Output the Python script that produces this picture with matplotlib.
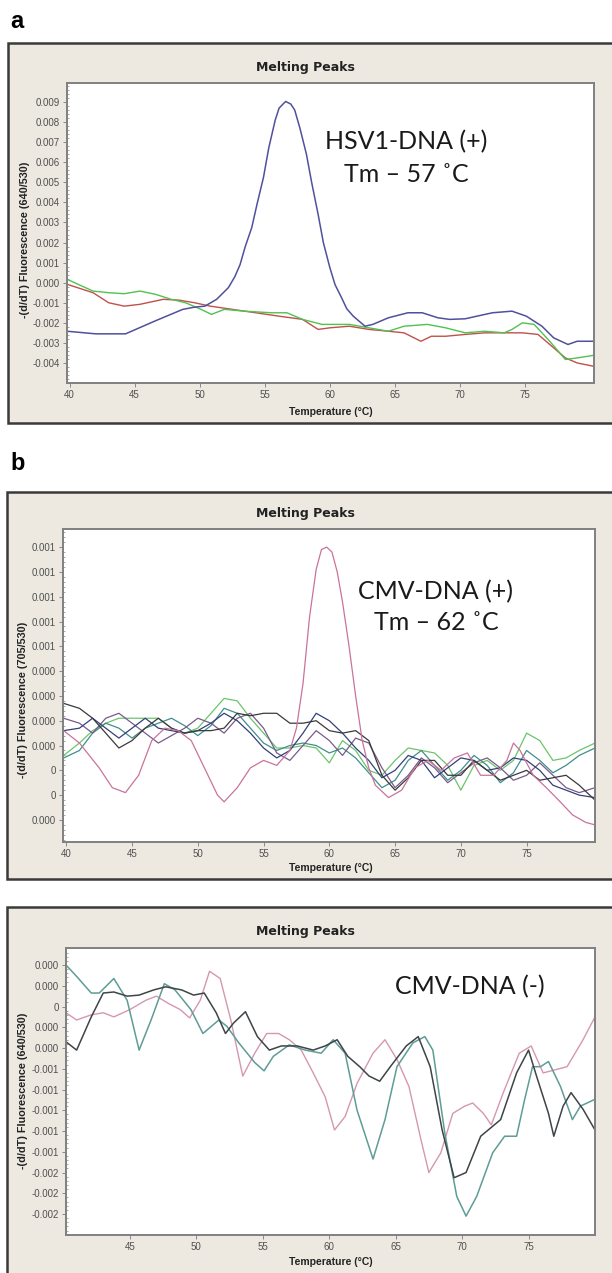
import matplotlib
matplotlib.use("Agg")
import matplotlib.pyplot as plt
from matplotlib.patches import Rectangle
from matplotlib.ticker import FixedLocator, FixedFormatter, MultipleLocator

W, H = 612, 1273

# ---------------- Panel a data (HSV1) ----------------
a_blue_t = [39.8, 42.0, 44.3, 46.6, 48.7, 49.6, 50.4, 51.3, 52.2, 52.7, 53.1, 53.5, 54.0, 54.4, 54.9,
            55.3, 55.8, 56.1, 56.6, 57.0, 57.3, 57.7, 58.2, 58.6, 59.1, 59.5, 60.0, 60.4, 60.9, 61.3,
            61.8, 62.7, 63.3, 64.5, 66.0, 67.1, 68.3, 69.2, 70.4, 71.3, 72.5, 74.0, 75.1, 76.3, 77.2,
            78.3, 79.0, 80.3]
a_blue_y = [-0.00242, -0.00255, -0.00255, -0.0019, -0.00133, -0.00122, -0.00117, -0.00083, -0.00025,
            0.0003, 0.0009, 0.0018, 0.00275, 0.0039, 0.00525, 0.0067, 0.0081, 0.0087, 0.00903, 0.0089,
            0.0086, 0.0077, 0.0064, 0.005, 0.0034, 0.002, 0.00075, -0.0001, -0.00075, -0.0013,
            -0.00167, -0.00217, -0.00208, -0.00175, -0.0015, -0.0015, -0.00175, -0.00183, -0.0018,
            -0.00167, -0.0015, -0.00142, -0.00167, -0.00217, -0.00275, -0.00308, -0.00292, -0.00292]

a_red_t = [39.8, 41.8, 43.0, 44.2, 45.4, 47.2, 48.4, 49.6, 50.8, 52.5, 54.3, 56.1, 57.9, 59.1, 60.0,
           61.5, 63.0, 64.5, 65.7, 67.0, 67.8, 68.9, 70.4, 71.9, 73.4, 74.8, 76.0, 76.9, 78.1, 79.0, 80.3]
a_red_y = [-0.00008, -0.0005, -0.001, -0.00117, -0.00108, -0.00083, -0.00087, -0.001, -0.00117,
           -0.00133, -0.0015, -0.00167, -0.00183, -0.00233, -0.00225, -0.00217, -0.00233, -0.00242,
           -0.0025, -0.00292, -0.00267, -0.00267, -0.00258, -0.0025, -0.0025, -0.0025, -0.00258,
           -0.00308, -0.00375, -0.004, -0.00417]

a_green_t = [39.8, 41.8, 43.0, 44.2, 45.4, 46.6, 47.8, 48.9, 50.1, 50.9, 51.9, 53.4, 55.5, 56.7,
             57.9, 59.4, 61.5, 63.0, 64.5, 65.7, 67.5, 68.9, 70.4, 71.9, 73.4, 74.0, 74.8, 75.7,
             76.9, 78.1, 79.0, 80.3]
a_green_y = [0.00017, -0.00042, -0.0005, -0.00055, -0.00042, -0.00058, -0.00083, -0.001, -0.00133,
             -0.00158, -0.00133, -0.00142, -0.0015, -0.0015, -0.00183, -0.00208, -0.00208, -0.00225,
             -0.00242, -0.00217, -0.00208, -0.00225, -0.0025, -0.00242, -0.0025, -0.00233, -0.002,
             -0.00208, -0.00292, -0.00383, -0.00375, -0.00362]

a_yticks = [0.009, 0.008, 0.007, 0.006, 0.005, 0.004, 0.003, 0.002, 0.001, 0.0, -0.001, -0.002, -0.003, -0.004]
a_ylabels = ["0.009", "0.008", "0.007", "0.006", "0.005", "0.004", "0.003", "0.002", "0.001", "0.000",
             "-0.001", "-0.002", "-0.003", "-0.004"]

# ---------------- Panel b data (CMV +) ----------------
b_t = [39.8, 41, 42, 43, 44, 45, 46, 47, 48, 49, 50, 51, 52, 53, 54, 55, 56, 57, 58, 59, 60, 61, 62,
       63, 64, 65, 66, 67, 68, 69, 70, 71, 72, 73, 74, 75, 76, 77, 78, 79, 80.2]
b_dark_y = [0.00037, 0.00035, 0.00031, 0.00025, 0.00019, 0.00022, 0.00027, 0.00031, 0.00027, 0.00025,
            0.00026, 0.00026, 0.00027, 0.00033, 0.00032, 0.00033, 0.00033, 0.00029, 0.00029, 0.0003,
            0.00026, 0.00025, 0.00026, 0.00022, 0.00008, 0.00002, 0.00007, 0.00014, 0.00014, 0.00008,
            0.00008, 0.00014, 0.0001, 0.00006, 0.00008, 0.0001, 0.00006, 0.00007, 0.00008, 0.00004, -0.00002]
b_green_y = [0.00016, 0.00021, 0.00026, 0.00029, 0.00031, 0.00031, 0.00031, 0.00031, 0.00027, 0.00025,
             0.00027, 0.00033, 0.00039, 0.00038, 0.00031, 0.00025, 0.00019, 0.00019, 0.0002, 0.00019,
             0.00013, 0.00022, 0.00018, 0.0001, 0.00008, 0.00014, 0.00019, 0.00018, 0.00017, 0.00012,
             0.00002, 0.00012, 0.00014, 0.0001, 0.00014, 0.00025, 0.00022, 0.00014, 0.00015, 0.00018, 0.00021]
b_navy_y = [0.00026, 0.00027, 0.00031, 0.00027, 0.00023, 0.00027, 0.00031, 0.00027, 0.00026, 0.00025,
            0.00026, 0.00029, 0.00033, 0.0003, 0.00025, 0.00019, 0.00015, 0.00018, 0.00025, 0.00033,
            0.0003, 0.00025, 0.00019, 0.00014, 0.00007, 0.0001, 0.00016, 0.00014, 0.00007, 0.00011,
            0.00015, 0.00014, 0.0001, 0.00011, 0.00015, 0.00014, 0.0001, 0.00004, 0.00002, 0.0, -0.00001]
b_teal_y = [0.00015, 0.00018, 0.00025, 0.00029, 0.00027, 0.00023, 0.00027, 0.00029, 0.00031, 0.00028,
            0.00024, 0.00028, 0.00035, 0.00033, 0.00027, 0.00021, 0.00018, 0.0002, 0.00021, 0.0002,
            0.00017, 0.00019, 0.00015, 0.00009, 0.00003, 0.00006, 0.00014, 0.00018, 0.00012, 0.00006,
            0.0001, 0.00016, 0.00012, 0.00005, 0.00009, 0.00018, 0.00014, 0.00009, 0.00012, 0.00016, 0.00019]
b_purple_y = [0.00031, 0.00029, 0.00025, 0.00031, 0.00033, 0.00029, 0.00025, 0.00021, 0.00024, 0.00027,
              0.00031, 0.00029, 0.00025, 0.00031, 0.00033, 0.00027, 0.00017, 0.00014, 0.0002, 0.00026,
              0.00022, 0.00016, 0.00023, 0.00021, 0.00011, 0.00003, 0.00008, 0.00015, 0.00011, 0.00005,
              0.00009, 0.00013, 0.00015, 0.00011, 0.00006, 0.00008, 0.00013, 0.00008, 0.00003, 0.00001, 0.00003]
b_pink_t = [39.8, 41, 42.5, 43.5, 44.5, 45.5, 46.5, 47.5, 48.5, 49.5, 50.5, 51.5, 52, 53, 54, 55, 56, 57,
            57.5, 58, 58.5, 59, 59.4, 59.8, 60.2, 60.6, 61, 61.5, 62, 62.5, 63, 63.5, 64.5, 65.5, 66.5,
            67.5, 68.5, 69.5, 70.5, 71.5, 72.5, 73.5, 74, 74.5, 75.5, 76.5, 77.5, 78.5, 79.5, 80.2]
b_pink_y = [0.00026, 0.00021, 0.00011, 0.00003, 0.00001, 0.00008, 0.00022, 0.00027, 0.00026, 0.00022,
            0.00011, 0.0, -0.000027, 0.00003, 0.00011, 0.00014, 0.00012, 0.00018, 0.00027, 0.00045,
            0.00072, 0.00091, 0.00099, 0.001, 0.00098, 0.0009, 0.00078, 0.0006, 0.0004, 0.00022,
            0.00011, 0.00004, -0.00001, 0.00002, 0.00011, 0.00014, 0.0001, 0.00015, 0.00017, 0.00008,
            0.00008, 0.00014, 0.00021, 0.00018, 0.00008, 0.00003, -0.000024, -0.00008, -0.00011, -0.00012]

b_yticks = [0.0010, 0.0009, 0.0008, 0.0007, 0.0006, 0.0005, 0.0004, 0.0003, 0.0002, 0.0001, 0.0, -0.0001]
b_ylabels = ["0.001", "0.001", "0.001", "0.001", "0.001", "0.000", "0.000", "0.000", "0.000", "0", "0", "0.000"]

# ---------------- Panel c data (CMV -) ----------------
c_teal_t = [40.2, 41.0, 42.1, 42.7, 43.8, 44.8, 45.7, 46.6, 47.6, 48.4, 49.6, 50.5, 51.7, 52.3,
            53.2, 54.4, 55.1, 55.8, 57.0, 58.2, 59.4, 60.3, 61.2, 62.1, 63.3, 64.2, 65.1, 66.3,
            67.2, 67.8, 68.7, 69.6, 70.3, 71.1, 72.3, 73.2, 74.1, 74.7, 75.3, 75.9, 76.5, 77.4,
            78.3, 78.9, 79.9]
c_teal_y = [0.0004, 0.00029, 0.00013, 0.00013, 0.00027, 0.00006, -0.00042, -0.00013, 0.00022, 0.00016,
            -0.00003, -0.00026, -0.00013, -0.00019, -0.00035, -0.00054, -0.00062, -0.00048, -0.00037,
            -0.00042, -0.00045, -0.00032, -0.00045, -0.001, -0.00147, -0.00109, -0.00058, -0.00035,
            -0.00029, -0.00042, -0.00122, -0.00183, -0.00202, -0.00183, -0.00141, -0.00125, -0.00125,
            -0.0009, -0.00058, -0.00058, -0.00053, -0.00077, -0.00109, -0.00096, -0.00090]
c_dark_t = [40.2, 41.0, 42.1, 43.0, 43.8, 44.8, 45.7, 46.8, 47.7, 48.9, 49.8, 50.6, 51.5, 52.2,
            52.8, 53.7, 54.6, 55.5, 56.4, 57.6, 58.8, 59.7, 60.6, 61.4, 62.3, 63.0, 63.8, 64.6,
            65.8, 66.7, 67.6, 68.5, 69.4, 70.3, 71.4, 72.9, 74.1, 75.0, 75.6, 76.5, 76.9, 77.6,
            78.2, 79.1, 80.0]
c_dark_y = [-0.00034, -0.00042, -0.0001, 0.00013, 0.00014, 0.0001, 0.00011, 0.00016, 0.00019, 0.00016,
            0.00011, 0.00013, -0.00006, -0.00026, -0.00016, -0.00005, -0.00029, -0.00042, -0.00038,
            -0.00038, -0.00042, -0.00038, -0.00032, -0.00048, -0.00058, -0.00067, -0.00072, -0.00058,
            -0.00038, -0.00029, -0.00058, -0.00119, -0.00165, -0.0016, -0.00125, -0.00109, -0.00064,
            -0.00042, -0.00067, -0.00103, -0.00125, -0.00096, -0.00083, -0.00099, -0.00119]
c_pink_t = [40.2, 41.0, 42.1, 43.0, 43.8, 45.0, 46.2, 47.0, 47.9, 48.8, 49.5, 50.3, 51.0, 51.8,
            52.6, 53.5, 54.4, 55.3, 56.2, 57.0, 57.9, 58.8, 59.7, 60.4, 61.2, 62.1, 63.3, 64.2,
            65.1, 66.0, 66.9, 67.5, 68.4, 69.3, 70.2, 70.8, 71.6, 72.2, 73.1, 74.3, 75.2, 76.1,
            77.0, 77.9, 79.1, 80.0]
c_pink_y = [-0.00006, -0.00013, -0.00008, -0.00006, -0.0001, -0.00003, 0.00006, 0.00010, 0.00003,
            -0.00003, -0.00011, 0.00006, 0.00034, 0.00027, -0.00013, -0.00067, -0.00045, -0.00026,
            -0.00026, -0.00032, -0.00042, -0.00064, -0.00087, -0.00119, -0.00106, -0.00074, -0.00045,
            -0.00032, -0.00051, -0.00077, -0.00128, -0.0016, -0.00141, -0.00103, -0.00096, -0.00093,
            -0.00103, -0.00114, -0.00083, -0.00045, -0.00038, -0.00064, -0.00061, -0.00058, -0.00032,
            -0.0001]

c_yticks = [0.0004, 0.0002, 0.0, -0.0002, -0.0004, -0.0006, -0.0008, -0.0010, -0.0012, -0.0014, -0.0016, -0.0018, -0.0020]
c_ylabels = ["0.000", "0.000", "0", "0.000", "0.000", "-0.001", "-0.001", "-0.001", "-0.001", "-0.001",
             "-0.002", "-0.002", "-0.002"]

x_ticks_ab = [40, 45, 50, 55, 60, 65, 70, 75]
x_ticks_c = [45, 50, 55, 60, 65, 70, 75]

BEIGE = "#ede9e1"
FRAME = "#808080"
TICKCOL = "#505050"
SANS = ["Liberation Sans", "DejaVu Sans"]

fig = plt.figure(figsize=(W / 100, H / 100), dpi=100)
fig.patch.set_facecolor("white")


def fx(x):
    return x / W


def fy(y):
    return 1 - y / H


def panel_box(x0, y0, x1, y1):
    r = Rectangle((fx(x0), fy(y1)), fx(x1) - fx(x0), fy(y0) - fy(y1), transform=fig.transFigure,
                  facecolor=BEIGE, edgecolor="#3a3a3a", linewidth=1.8, zorder=-10)
    fig.patches.append(r)


def make_axes(l, t, r, b, xlim, ylim, xticks, yticks, ylabels):
    ax = fig.add_axes([fx(l), fy(b), fx(r) - fx(l), fy(t) - fy(b)])
    ax.set_zorder(5)
    ax.set_facecolor("white")
    ax.set_xlim(*xlim)
    ax.set_ylim(*ylim)
    ax.xaxis.set_major_locator(FixedLocator(xticks))
    ax.set_xticklabels([str(v) for v in xticks])
    ax.yaxis.set_major_locator(FixedLocator(yticks))
    ax.yaxis.set_major_formatter(FixedFormatter(ylabels))
    for s in ax.spines.values():
        s.set_color(FRAME)
        s.set_linewidth(1.4)
    ax.tick_params(axis="both", direction="out", length=3, width=0.7, color="#888888",
                   labelsize=7, labelcolor=TICKCOL, pad=2)
    step = abs(yticks[0] - yticks[1]) / 5
    ax.yaxis.set_minor_locator(MultipleLocator(step))
    ax.tick_params(axis="y", which="minor", direction="in", length=1.5, width=0.6, color="#999999")
    for lab in ax.get_xticklabels() + ax.get_yticklabels():
        lab.set_family(SANS)
    return ax


def texts(title_y, xlabel_y, ylabel_x, ylabel_y, ylabel):
    fig.text(fx(305), fy(title_y), "Melting Peaks", ha="center", va="center", fontsize=9,
             fontweight="bold", color="#222222", family="DejaVu Sans", zorder=6)
    fig.text(fx(331), fy(xlabel_y), "Temperature (°C)", ha="center", va="center", fontsize=7.5,
             fontweight="bold", color="#222222", family=SANS, zorder=6)
    fig.text(fx(ylabel_x), fy(ylabel_y), ylabel, ha="center", va="center", rotation=90, fontsize=7.8,
             fontweight="bold", color="#222222", family=SANS, zorder=6)


BIG = ["Lato", "DejaVu Sans"]

# ---- Panel a ----
fig.text(fx(10), fy(22), "a", fontsize=17, fontweight="bold", ha="left", va="center", family="Liberation Sans")
panel_box(8, 43, 640, 423)
axa = make_axes(67, 83, 594, 383, (39.8, 80.3), (-0.005, 0.00995), x_ticks_ab, a_yticks, a_ylabels)
axa.plot(a_red_t, a_red_y, color="#c0504d", lw=1.0)
axa.plot(a_green_t, a_green_y, color="#4fc24f", lw=1.0)
axa.plot(a_blue_t, a_blue_y, color="#50509c", lw=1.1)
texts(67, 412, 25, 240, "-(d/dT) Fluorescence (640/530)")
fig.text(fx(406), fy(142), "HSV1-DNA (+)", fontsize=18, ha="center", va="center", family=BIG, color="#1a1a1a", zorder=7)
fig.text(fx(406), fy(175), "Tm – 57 ˚C", fontsize=18, ha="center", va="center", family=BIG, color="#1a1a1a", zorder=7)

# ---- Panel b ----
fig.text(fx(10), fy(464), "b", fontsize=17, fontweight="bold", ha="left", va="center", family="Liberation Sans")
panel_box(7, 492, 640, 879)
axb = make_axes(63, 529, 595, 842, (39.75, 80.2), (-0.000189, 0.001073), x_ticks_ab, b_yticks, b_ylabels)
axb.plot(b_t, b_green_y, color="#6cc46c", lw=0.9)
axb.plot(b_t, b_teal_y, color="#3f8f8a", lw=0.9)
axb.plot(b_t, b_purple_y, color="#7a5a8a", lw=0.9)
axb.plot(b_t, b_navy_y, color="#34407a", lw=0.9)
axb.plot(b_t, b_dark_y, color="#3a3a3a", lw=0.9)
axb.plot(b_pink_t, b_pink_y, color="#c9739b", lw=0.9)
texts(513, 868, 23, 700, "-(d/dT) Fluorescence (705/530)")
fig.text(fx(436), fy(592), "CMV-DNA (+)", fontsize=18, ha="center", va="center", family=BIG, color="#1a1a1a", zorder=7)
fig.text(fx(436), fy(623), "Tm – 62 ˚C", fontsize=18, ha="center", va="center", family=BIG, color="#1a1a1a", zorder=7)

# ---- Panel c ----
panel_box(7, 907, 640, 1290)
axc = make_axes(66, 948, 595, 1235, (40.2, 80.0), (-0.002202, 0.000564), x_ticks_c, c_yticks, c_ylabels)
axc.plot(c_pink_t, c_pink_y, color="#d597b0", lw=1.0)
axc.plot(c_teal_t, c_teal_y, color="#5e9c96", lw=1.1)
axc.plot(c_dark_t, c_dark_y, color="#3e4448", lw=1.1)
texts(931, 1262, 23, 1091, "-(d/dT) Fluorescence (640/530)")
fig.text(fx(470), fy(987), "CMV-DNA (-)", fontsize=18, ha="center", va="center", family=BIG, color="#1a1a1a", zorder=7)

fig.savefig("out.png", dpi=100, facecolor="white")
